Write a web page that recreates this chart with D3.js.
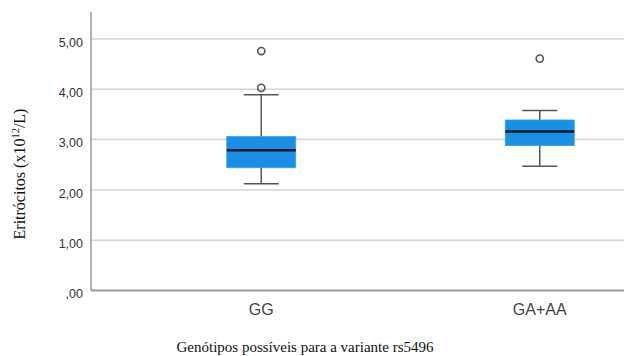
<!DOCTYPE html>
<html><head><meta charset="utf-8">
<script src="https://cdn.jsdelivr.net/npm/d3@7"></script>
<style>body{margin:0;background:#fff}svg{display:block}</style>
</head><body>
<svg id="c" width="624" height="356"></svg>
<script>
const categories = ["GG", "GA+AA"];
const q1 = [2.44, 2.88];
const median = [2.79, 3.16];
const q3 = [3.06, 3.39];
const whiskerLow = [2.12, 2.47];
const whiskerHigh = [3.89, 3.58];
const outliers = [[4.76, 4.03], [4.61]];
const yTicks = [0, 1, 2, 3, 4, 5];
const yTickLabels = [",00", "1,00", "2,00", "3,00", "4,00", "5,00"];

const svg = d3.select("#c");
const x0 = 91, x1 = 624, yTop = 12;
const y = d3.scaleLinear().domain([0, 5]).range([290.5, 39]);
const x = d3.scaleBand().domain(categories).range([122, 679]).paddingInner(0).paddingOuter(0);
const boxW = 69, capW = 35;

// gridlines
svg.append("g").selectAll("line").data(yTicks.filter(d => d > 0)).join("line")
  .attr("x1", x0).attr("x2", x1).attr("y1", d => y(d)).attr("y2", d => y(d))
  .attr("stroke", "#d4d4d4").attr("stroke-width", 1.5);

// y axis
const yAxis = d3.axisLeft(y).tickValues(yTicks).tickSize(0).tickPadding(8)
  .tickFormat((d, i) => yTickLabels[i]);
const gy = svg.append("g").attr("transform", `translate(${x0},0)`).call(yAxis);
gy.select(".domain").remove();
gy.selectAll("text").attr("font-family", "Arial, 'Liberation Sans', sans-serif")
  .attr("font-size", 12.5).attr("fill", "#333").attr("dy", "0.58em");
svg.append("line").attr("x1", x0).attr("x2", x0).attr("y1", yTop).attr("y2", y(0))
  .attr("stroke", "#999").attr("stroke-width", 1.5);

// x axis
const xAxis = d3.axisBottom(x).tickSize(0).tickPadding(13);
const gx = svg.append("g").attr("transform", `translate(0,${y(0)})`).call(xAxis);
gx.select(".domain").remove();
gx.selectAll("text").attr("font-family", "Arial, 'Liberation Sans', sans-serif")
  .attr("font-size", 16).attr("fill", "#444");
svg.append("line").attr("x1", x0).attr("x2", x1).attr("y1", y(0)).attr("y2", y(0))
  .attr("stroke", "#999").attr("stroke-width", 2);

// boxes
const data = categories.map((c, i) => ({c, q1: q1[i], med: median[i], q3: q3[i], lo: whiskerLow[i], hi: whiskerHigh[i], out: outliers[i]}));
const g = svg.append("g").selectAll("g").data(data).join("g")
  .attr("transform", d => `translate(${x(d.c) + x.bandwidth() / 2},0)`);
g.append("line").attr("x1", 0).attr("x2", 0).attr("y1", d => y(d.hi)).attr("y2", d => y(d.lo))
  .attr("stroke", "#555").attr("stroke-width", 1.5);
g.append("line").attr("x1", -capW / 2).attr("x2", capW / 2).attr("y1", d => y(d.hi)).attr("y2", d => y(d.hi))
  .attr("stroke", "#555").attr("stroke-width", 1.5);
g.append("line").attr("x1", -capW / 2).attr("x2", capW / 2).attr("y1", d => y(d.lo)).attr("y2", d => y(d.lo))
  .attr("stroke", "#555").attr("stroke-width", 1.5);
g.append("rect").attr("x", -boxW / 2).attr("width", boxW)
  .attr("y", d => y(d.q3)).attr("height", d => y(d.q1) - y(d.q3))
  .attr("fill", "#1a8fe3").attr("stroke", "#3ea0ea").attr("stroke-width", 0.8);
g.append("line").attr("x1", -boxW / 2).attr("x2", boxW / 2).attr("y1", d => y(d.med)).attr("y2", d => y(d.med))
  .attr("stroke", "#0b1a26").attr("stroke-width", 2.5);
g.selectAll("circle").data(d => d.out).join("circle")
  .attr("cx", 0).attr("cy", d => y(d)).attr("r", 3.6)
  .attr("fill", "none").attr("stroke", "#555").attr("stroke-width", 1.6);

// titles
svg.append("text").attr("x", 305).attr("y", 352).attr("text-anchor", "middle")
  .attr("font-family", "'Liberation Serif', 'Times New Roman', serif").attr("font-size", 15).attr("fill", "#111")
  .text("Genótipos possíveis para a variante rs5496");
const yt = svg.append("text").attr("transform", "translate(25,174) rotate(-90)").attr("text-anchor", "middle")
  .attr("font-family", "'Liberation Serif', 'Times New Roman', serif").attr("font-size", 16).attr("fill", "#111");
yt.append("tspan").text("Eritrócitos (x10");
yt.append("tspan").attr("font-size", 10.5).attr("dy", -6).text("12");
yt.append("tspan").attr("dy", 6).text("/L)");
</script>
</body></html>
